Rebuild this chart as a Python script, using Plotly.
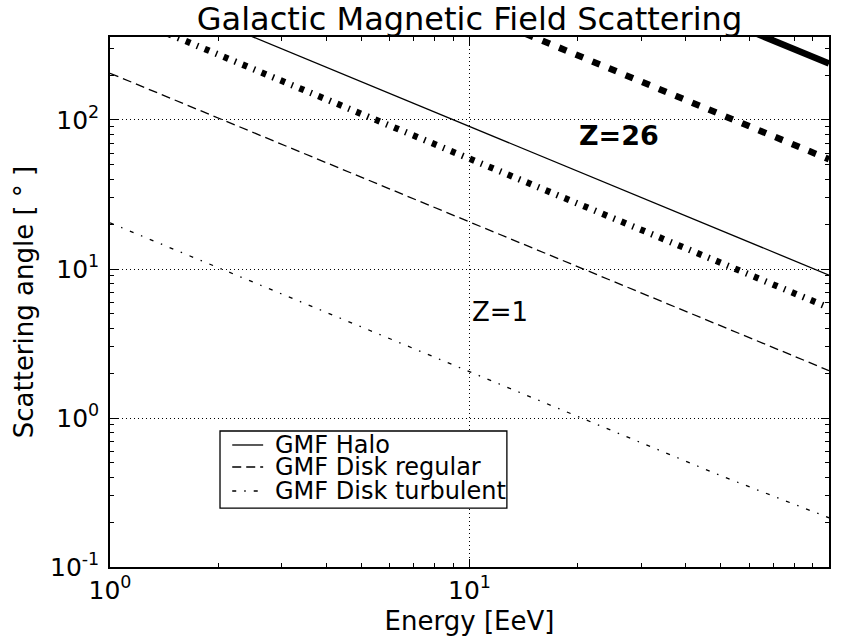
import plotly.graph_objects as go

# Energy [EeV]
energy = [1, 2, 5, 10, 20, 50, 100]
# Scattering angle [deg]
halo_z1 = [900, 450, 180, 90, 45, 18, 9.1]
disk_reg_z1 = [206, 103, 41.2, 20.6, 10.3, 4.12, 2.08]
disk_turb_z1 = [20.4, 10.2, 4.08, 2.04, 1.02, 0.41, 0.214]
halo_z26 = [23800, 11900, 4760, 2380, 1190, 476, 239]
disk_reg_z26 = [5400, 2700, 1080, 540, 270, 108, 54.5]
disk_turb_z26 = [550, 275, 110, 55, 27.5, 11, 5.5]

series_names = ["GMF Halo", "GMF Disk regular", "GMF Disk turbulent"]

x_ticks = [1, 10, 100]
x_ticktext = ["10<sup>0</sup>", "10<sup>1</sup>", "10<sup>2</sup>"]
y_ticks = [0.1, 1, 10, 100]
y_ticktext = ["10<sup>-1</sup>", "10<sup>0</sup>", "10<sup>1</sup>", "10<sup>2</sup>"]
x_minor = [2, 3, 4, 5, 6, 7, 8, 9, 20, 30, 40, 50, 60, 70, 80, 90]
y_minor = [0.2, 0.3, 0.4, 0.5, 0.6, 0.7, 0.8, 0.9,
           2, 3, 4, 5, 6, 7, 8, 9,
           20, 30, 40, 50, 60, 70, 80, 90, 200, 300]

thin = 1.3
thick = 6.5
dash_styles = ["solid", "9px,5px", "4px,8px,1.5px,8px"]
thick_dash_styles = ["solid", "8px,10px", "5px,7px,1.5px,7px"]

fig = go.Figure()
for name, ys, d in zip(series_names, [halo_z1, disk_reg_z1, disk_turb_z1], dash_styles):
    fig.add_trace(go.Scatter(x=energy, y=ys, mode="lines", name=name + " (Z=1)",
                             showlegend=False,
                             line=dict(color="black", width=thin, dash=d)))
for name, ys, d in zip(series_names, [halo_z26, disk_reg_z26, disk_turb_z26], thick_dash_styles):
    fig.add_trace(go.Scatter(x=energy, y=ys, mode="lines", name=name + " (Z=26)",
                             showlegend=False,
                             line=dict(color="black", width=thick, dash=d)))

axis_common = dict(
    type="log", ticks="inside", ticklen=8, tickwidth=1, tickcolor="black",
    showline=True, linecolor="black", linewidth=1.5, mirror="allticks",
    showgrid=True, gridcolor="black", gridwidth=1, griddash="1px,3px",
    zeroline=False, tickfont=dict(size=25),
)

fig.update_xaxes(range=[0, 2], tickmode="array", tickvals=x_ticks, ticktext=x_ticktext,
                 minor=dict(tickmode="array", tickvals=x_minor, ticks="inside", ticklen=4,
                            tickcolor="black", showgrid=False),
                 title=dict(text="Energy [EeV]", font=dict(size=26), standoff=8),
                 **axis_common)
fig.update_yaxes(range=[-1, 2.557], tickmode="array", tickvals=y_ticks, ticktext=y_ticktext,
                 minor=dict(tickmode="array", tickvals=y_minor, ticks="inside", ticklen=4,
                            tickcolor="black", showgrid=False),
                 ticklabelstandoff=4,
                 title=dict(text="Scattering angle [ ° ]", font=dict(size=26), standoff=9),
                 **axis_common)

fig.add_annotation(x=1.0, y=0.711, xref="x", yref="y", text="Z=1", showarrow=False,
                   xanchor="left", yanchor="middle", font=dict(size=26, color="black"))
fig.add_annotation(x=1.300, y=1.893, xref="x", yref="y", text="<b>Z=26</b>", showarrow=False,
                   xanchor="left", yanchor="middle", font=dict(size=27, color="black"))

# Legend (drawn as a box with samples, to match the compact row spacing)
fig.add_shape(type="rect", xref="paper", yref="paper", x0=0.1530, x1=0.552,
              y0=0.111, y1=0.2566, layer="above",
              line=dict(color="black", width=1.3), fillcolor="white")
legend_rows = [0.2302, 0.1887, 0.1434]
for name, d, yr in zip(series_names, dash_styles, legend_rows):
    fig.add_shape(type="line", xref="paper", yref="paper", x0=0.170, x1=0.213,
                  y0=yr, y1=yr, layer="above",
                  line=dict(color="black", width=thin, dash=d))
    fig.add_annotation(x=0.2267, y=yr, xref="paper", yref="paper", text=name,
                       showarrow=False, xanchor="left", yanchor="middle",
                       font=dict(size=24, color="black"))

fig.update_layout(
    width=850, height=643,
    margin=dict(l=110, r=21, t=37, b=76),
    paper_bgcolor="white", plot_bgcolor="white",
    font=dict(family="DejaVu Sans", color="black", size=24),
    title=dict(text="Galactic Magnetic Field Scattering", x=0.5, xref="paper",
               xanchor="center", y=1 - 18.5 / 643, yref="container", yanchor="middle",
               font=dict(size=32)),
    showlegend=False,
)

fig.write_html("out.html", config={"displayModeBar": False},
               post_script="document.body.style.margin='0';")
